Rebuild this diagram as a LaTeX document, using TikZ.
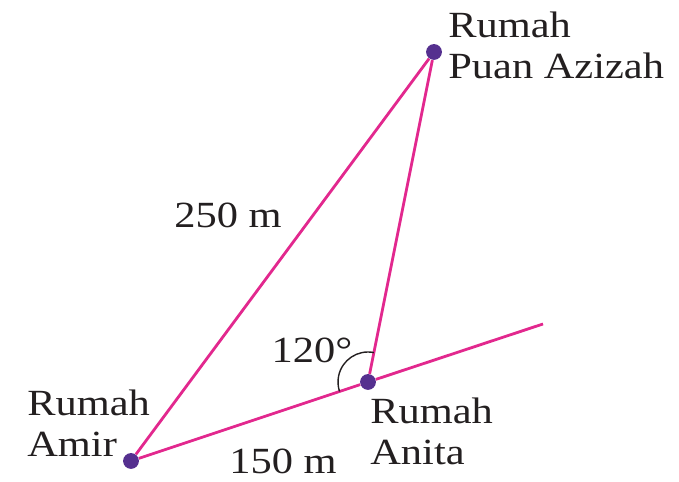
\documentclass[tikz,border=0pt]{standalone}
\usepackage{fontspec}
\setmainfont[FakeStretch=1.15]{Liberation Serif}
\usetikzlibrary{positioning, calc}
\definecolor{jalan}{HTML}{E2288E}
\definecolor{rumah}{HTML}{55308F}
\definecolor{teks}{HTML}{231F20}
\tikzset{
    house/.style={
        circle, fill=rumah, inner sep=0pt, minimum size=9pt,
    },
    road/.style={
        line width=1.6pt, color=jalan,
    },
    place/.style={
        font=\fontsize{21}{23}\selectfont, text=teks,
        align=left, inner sep=0pt,
    },
    measure/.style={
        font=\fontsize{21}{23}\selectfont, text=teks, inner sep=0pt,
    },
    anglearc/.style={
        line width=0.8pt, color=teks,
    },
}

\begin{document}
\begin{tikzpicture}[x=0.02cm, y=0.02cm]
\useasboundingbox (0,0) rectangle (679,482);

% =============================================
% Houses
% =============================================
\node[house] (amir) at (131,21) {};
\node[house] (anita) at (368,100) {};
\node[house] (azizah) at (434,430) {};
\coordinate (roadend) at (543,158);

% =============================================
% Roads
% =============================================
\draw[road] (amir) -- (azizah);
\draw[road] (azizah) -- (anita);
\draw[road] (amir) -- (anita) -- (roadend);

% =============================================
% Angle at Anita
% =============================================
\draw[anglearc] ($(anita)+(78.7:30)$) arc[start angle=78.7, end angle=198.4, radius=30];

% =============================================
% Labels
% =============================================
\node[place, anchor=north west] (azizahlbl) at (448,470) {Rumah\\Puan Azizah};
\node[place, anchor=north west] (amirlbl) at (27,92) {Rumah\\Amir};
\node[place, anchor=north west] (anitalbl) at (370,84) {Rumah\\Anita};

\node[measure] (sisiatas) at (228,267) {250 m};
\node[measure] (sisibawah) at (283,21) {150 m};
\node[measure] (sudut) at (312,132) {120°};

\end{tikzpicture}
\end{document}
